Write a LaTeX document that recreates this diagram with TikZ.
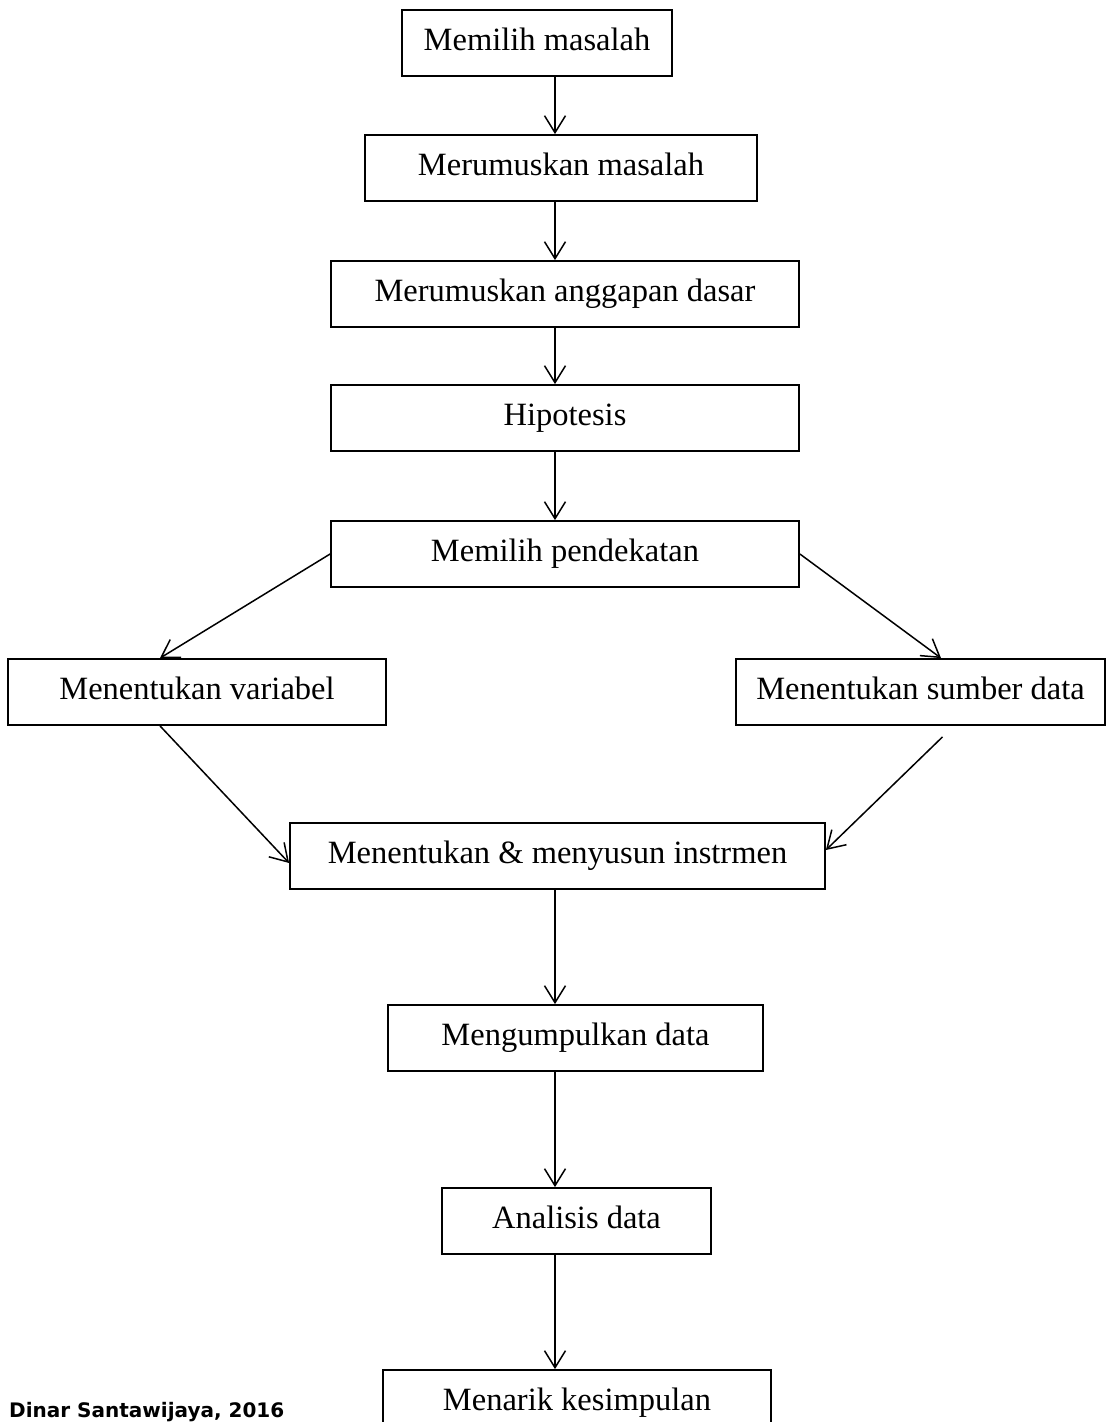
\documentclass[tikz,border=0pt]{standalone}
\usepackage{fontspec}
\setmainfont{Liberation Serif}
\newfontfamily\footfont{DejaVu Sans}
\usetikzlibrary{arrows.meta}
\tikzset{
  box/.style={draw, line width=1.8pt, inner sep=0pt, minimum height=66pt,
    text height=22pt, text depth=8pt, font=\fontsize{32.5}{38}\selectfont},
  arr/.style={line width=1.5pt, -{Straight Barb[length=17pt,width=21pt,line width=1.5pt]}}
}
\begin{document}
\begin{tikzpicture}[x=1pt,y=-1pt]
\clip (0,0) rectangle (1106,1422);
\fill[white] (0,0) rectangle (1106,1422);
\coordinate (ax) at (555,0);
\node[box, minimum width=270pt] (b1) at (537,43) {Memilih masalah};
\node[box, minimum width=392pt] (b2) at (561,168) {Merumuskan masalah};
\node[box, minimum width=468pt] (b3) at (565,294) {Merumuskan anggapan dasar};
\node[box, minimum width=468pt] (b4) at (565,418) {Hipotesis};
\node[box, minimum width=468pt] (b5) at (565,554) {Memilih pendekatan};
\node[box, minimum width=378pt] (b6) at (197,692) {Menentukan variabel};
\node[box, minimum width=369pt] (b7) at (920.5,692) {Menentukan sumber data};
\node[box, minimum width=535pt] (b8) at (557.5,856) {Menentukan \& menyusun instrmen};
\node[box, minimum width=375pt] (b9) at (575.5,1038) {Mengumpulkan data};
\node[box, minimum width=269pt] (b10) at (576.5,1221) {Analisis data};
\node[box, minimum width=388pt] (b11) at (577,1403) {Menarik kesimpulan};
\node[anchor=base west, inner sep=0pt, font=\footfont\bfseries\fontsize{20}{24}\selectfont] (foot) at (9,1417) {Dinar Santawijaya, 2016};
\draw[arr] (b1.south -| ax) -- (b2.north -| ax);
\draw[arr] (b2.south -| ax) -- (b3.north -| ax);
\draw[arr] (b3.south -| ax) -- (b4.north -| ax);
\draw[arr] (b4.south -| ax) -- (b5.north -| ax);
\draw[arr] (b5.west) -- ([xshift=-37pt]b6.north);
\draw[arr] (b5.east) -- ([xshift=20.5pt]b7.north);
\draw[arr] ([xshift=-37pt]b6.south) -- ([yshift=-7pt]b8.west);
\draw[arr] ([xshift=22pt,yshift=-11pt]b7.south) -- ([yshift=6pt]b8.east);
\draw[arr] (b8.south -| ax) -- (b9.north -| ax);
\draw[arr] (b9.south -| ax) -- (b10.north -| ax);
\draw[arr] (b10.south -| ax) -- (b11.north -| ax);
\end{tikzpicture}
\end{document}
